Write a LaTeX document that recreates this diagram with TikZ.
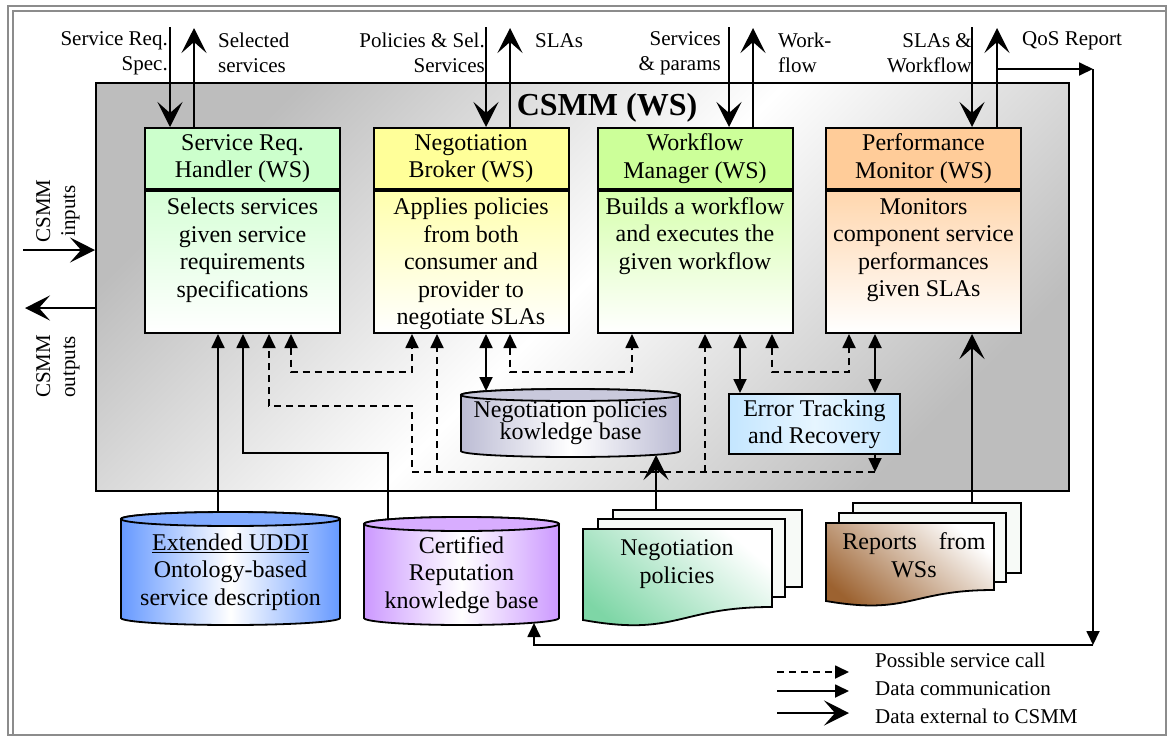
\documentclass[tikz,border=0pt]{standalone}
\usepackage{fontspec}
\setmainfont{Liberation Serif}
\usetikzlibrary{arrows.meta}

\newcommand\fsz[2]{\fontsize{#1}{#2}\selectfont}

\definecolor{frameGray}{HTML}{8C8C8C}
\definecolor{csmmGray}{HTML}{BDBDBD}
\definecolor{srhHead}{HTML}{CCFFCC}
\definecolor{nbHead}{HTML}{FFFF99}
\definecolor{wmHead}{HTML}{CCFF99}
\definecolor{pmHead}{HTML}{FFCC99}
\definecolor{etrBlue}{HTML}{C4E6FF}
\definecolor{etrLight}{HTML}{E6F5FF}
\definecolor{uddiBlue}{HTML}{6699FF}
\definecolor{uddiTopC}{HTML}{80AAFF}
\definecolor{certPurple}{HTML}{CC99FF}
\definecolor{certTopC}{HTML}{D8ADFF}
\definecolor{kbGray}{HTML}{BCBCD4}
\definecolor{kbTopC}{HTML}{C9C9DC}
\definecolor{negGreen}{HTML}{7ED6A6}
\definecolor{repBrown}{HTML}{9C6230}
\definecolor{pageWhite}{HTML}{F7FAF7}

\tikzset{
  wsbox/.style={draw, line width=2pt, minimum width=195pt, inner sep=0pt, align=center},
  hdr/.style={wsbox, minimum height=61pt, font=\fsz{24}{27.5}},
  bdy/.style={wsbox, minimum height=142pt, anchor=north},
  txt/.style={inner sep=0pt, align=center, font=\fsz{24}{27.5}},
  lbl/.style={inner sep=0pt, font=\fsz{21}{25}},
  ln/.style={line width=1.8pt},
  tipT/.tip={Triangle[length=14pt,width=13pt]},
  dc/.style={ln, -tipT},
  dcb/.style={ln, tipT-tipT},
  sc/.style={dc, dash pattern=on 7pt off 5pt},
  scb/.style={dcb, dash pattern=on 7pt off 5pt},
  ext/.style={ln, -{Stealth[length=25pt,width=25pt,inset=11pt]}},
  cylline/.style={line width=1.8pt},
}

\begin{document}
\begin{tikzpicture}[x=1pt, y=-1pt]
\useasboundingbox (0,0) rectangle (1168,737);

% page frame
\draw[frameGray, line width=2pt] (8,6) rectangle (1166,735);
\draw[frameGray, line width=2pt] (13,11) rectangle (1166,735);

% CSMM container
\node[draw, line width=2pt, minimum width=973pt, minimum height=408pt, inner sep=0pt,
      top color=csmmGray, bottom color=csmmGray, middle color=white, shading angle=45]
      (csmm) at (582.5,287) {};
\node[font=\fsz{32}{36}\bfseries, anchor=base, inner sep=0pt] (title) at (607,115) {CSMM (WS)};

% the four web services
\node[hdr, fill=srhHead] (h1) at (242.5,158.5) {Service Req.\\Handler (WS)};
\node[bdy, top color=srhHead!80!white, bottom color=white] (b1) at (h1.south) {};
\node[txt] (t1) at (242.5,250) {Selects services\\given service\\requirements\\specifications};

\node[hdr, fill=nbHead] (h2) at (471,158.5) {Negotiation\\Broker (WS)};
\node[bdy, top color=nbHead!80!white, bottom color=white] (b2) at (h2.south) {};
\node[txt] (t2) at (471,264) {Applies policies\\from both\\consumer and\\provider to\\negotiate SLAs};

\node[hdr, fill=wmHead] (h3) at (695,158.5) {Workflow\\Manager (WS)};
\node[bdy, top color=wmHead!80!white, bottom color=white] (b3) at (h3.south) {};
\node[txt] (t3) at (695,236) {Builds a workflow\\and executes the\\given workflow};

\node[hdr, fill=pmHead] (h4) at (923.5,158.5) {Performance\\Monitor (WS)};
\node[bdy, top color=pmHead!80!white, bottom color=white] (b4) at (h4.south) {};
\node[txt] (t4) at (923.5,250) {Monitors\\component service\\performances\\given SLAs};

% error tracking
\node[draw, line width=2pt, minimum width=171pt, minimum height=60pt, inner sep=0pt,
      align=center, font=\fsz{24}{27},
      left color=etrBlue, right color=etrBlue, middle color=etrLight]
      (etr) at (814.5,424) {Error Tracking\\and Recovery};

% negotiation policies knowledge base (cylinder)
\path[draw, cylline, left color=kbGray, right color=kbGray, middle color=white]
  (461,395) -- (461,451) arc[start angle=180, end angle=360, x radius=109.5pt, y radius=6pt]
  -- (680,395) arc[start angle=0, end angle=180, x radius=109.5pt, y radius=6pt] -- cycle;
\draw[cylline, fill=kbTopC] (570.5,395) ellipse[x radius=109.5pt, y radius=6pt];
\node[inner sep=0pt, align=center, font=\fsz{24}{22}] (kb) at (570.5,423)
  {Negotiation policies\\kowledge base};
\coordinate (kbTop) at (486,391);
\coordinate (kbBot) at (656,455);

% Extended UDDI (cylinder)
\path[draw, cylline, left color=uddiBlue, right color=uddiBlue, middle color=white]
  (121,519) -- (121,618) arc[start angle=180, end angle=360, x radius=109.5pt, y radius=7pt]
  -- (340,519) arc[start angle=0, end angle=180, x radius=109.5pt, y radius=7pt] -- cycle;
\draw[cylline, fill=uddiTopC] (230.5,519) ellipse[x radius=109.5pt, y radius=7pt];
\node[txt] (uddi) at (230.5,572) {\underline{Extended UDDI}\\Ontology-based\\service description};
\coordinate (uddiTop) at (218,512);

% certified reputation knowledge base (cylinder)
\path[draw, cylline, left color=certPurple, right color=certPurple, middle color=white]
  (364,524) -- (364,618) arc[start angle=180, end angle=360, x radius=97.5pt, y radius=7pt]
  -- (559,524) arc[start angle=0, end angle=180, x radius=97.5pt, y radius=7pt] -- cycle;
\draw[cylline, fill=certTopC] (461.5,524) ellipse[x radius=97.5pt, y radius=7pt];
\node[txt] (cert) at (461.5,575) {Certified\\Reputation\\knowledge base};
\coordinate (certTop) at (388,519);
\coordinate (certBot) at (534,623);

% negotiation policies (multi-document)
\draw[cylline, fill=pageWhite] (613,510) rectangle (802,587);
\draw[cylline, fill=pageWhite] (598,519) rectangle (785,597);
\path[draw, cylline, top color=white, bottom color=negGreen, shading angle=-40]
  (583,529) -- (772,529) -- (772,607) .. controls (677.5,607) and (677.5,637) .. (583,620) -- cycle;
\node[txt] (neg) at (677,564) {Negotiation\\policies};
\coordinate (negTop) at (656,510);

% reports from WSs (multi-document)
\draw[cylline, fill=pageWhite] (853,503) rectangle (1021,573);
\draw[cylline, fill=pageWhite] (839,513) rectangle (1006,582);
\path[draw, cylline, top color=white, bottom color=repBrown, shading angle=-40]
  (826,523) -- (994,523) -- (994,590) .. controls (910,590) and (910,615.5) .. (826,601) -- cycle;
\node[txt] (rep) at (914,555) {Reports\hspace{22pt}from\\WSs};
\coordinate (repTop) at (972,503);

% inputs and outputs of each web service
\coordinate (in1) at (170,27);  \coordinate (out1) at (194,28);
\coordinate (in2) at (486,27);  \coordinate (out2) at (510,28);
\coordinate (in3) at (729,27);  \coordinate (out3) at (753,28);
\coordinate (in4) at (972,27);  \coordinate (out4) at (997,28);
\draw[ext] (in1) -- (in1 |- h1.north);
\draw[ext] (out1 |- h1.north) -- (out1);
\draw[ext] (in2) -- (in2 |- h2.north);
\draw[ext] (out2 |- h2.north) -- (out2);
\draw[ext] (in3) -- (in3 |- h3.north);
\draw[ext] (out3 |- h3.north) -- (out3);
\draw[ext] (in4) -- (in4 |- h4.north);
\draw[ext] (out4 |- h4.north) -- (out4);

\node[lbl, align=right, anchor=east] (l1a) at (168,53) {Service Req.\\Spec.};
\node[lbl, align=left, anchor=west] (l1b) at (218,53) {Selected\\services};
\node[lbl, align=right, anchor=east] (l2a) at (485,53) {Policies \& Sel.\\Services};
\node[lbl, anchor=west] (l2b) at (535,41) {SLAs};
\node[lbl, align=right, anchor=east] (l3a) at (721,53) {Services\\\& params};
\node[lbl, align=left, anchor=west] (l3b) at (778,53) {Work-\\flow};
\node[lbl, align=right, anchor=east] (l4a) at (972,53) {SLAs \&\\Workflow};
\node[lbl, anchor=west] (l4b) at (1022,41) {QoS Report};

% CSMM inputs and outputs
\coordinate (csIn) at (23,250);
\coordinate (csOut) at (25,308);
\draw[ext] (csIn) -- (csIn -| csmm.west);
\draw[ext] (csOut -| csmm.west) -- (csOut);
\node[lbl, rotate=90, align=center] (inl) at (58,211) {CSMM\\inputs};
\node[lbl, rotate=90, align=left, anchor=west] (outl) at (58,398) {CSMM\\outputs};

% data sources feeding the service request handler
\draw[dc] (uddiTop) -- (uddiTop |- b1.south);
\draw[dc] (certTop) |- (243,453) -- (243,453 |- b1.south);

% possible service calls
\draw[sc] (875,0 |- etr.south) -- (875,472);
\draw[sc] (875,472) -- (412,472) |- (269,406) -- (269,406 |- b1.south);
\draw[sc] (437,472) -- (437,472 |- b2.south);
\draw[sc] (705,472) -- (705,472 |- b3.south);
\draw[scb] (291,0 |- b1.south) |- (412,372) -- (412,372 |- b2.south);
\draw[scb] (510,0 |- b2.south) |- (632,372) -- (632,372 |- b3.south);
\draw[scb] (772,0 |- b3.south) |- (849,372) -- (849,372 |- b4.south);

% data communication
\draw[dcb] (486,0 |- b2.south) -- (kbTop);
\draw[dcb] (740,0 |- b3.south) -- (740,0 |- etr.north);
\draw[dcb] (875,0 |- b4.south) -- (875,0 |- etr.north);
\draw[ext] (negTop) -- (kbBot);
\draw[ext] (repTop) -- (repTop |- b4.south);

% QoS report loop back to the reputation base
\coordinate (qosJ) at (997,69);
\coordinate (qosC) at (1093,69);
\coordinate (qosD) at (1093,645);
\draw[dc] (qosJ) -- (qosC);
\draw[dc] (qosC) -- (qosD);
\draw[dc] (qosD) -| (certBot);

% legend
\coordinate (lg1) at (777,672);
\coordinate (lg2) at (777,691);
\coordinate (lg3) at (777,713);
\draw[sc] (lg1) -- ++(72,0);
\draw[dc] (lg2) -- ++(72,0);
\draw[ext] (lg3) -- ++(72,0);
\node[lbl, anchor=west] (lt1) at (875,660) {Possible service call};
\node[lbl, anchor=west] (lt2) at (875,689) {Data communication};
\node[lbl, anchor=west] (lt3) at (875,716) {Data external to CSMM};
\end{tikzpicture}
\end{document}
